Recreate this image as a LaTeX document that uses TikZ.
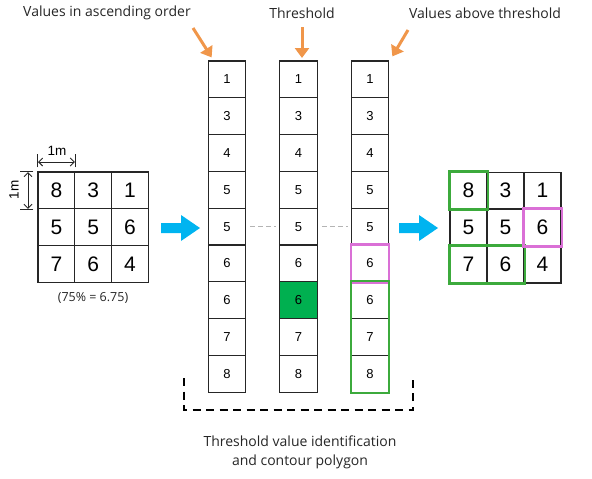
\documentclass[tikz,border=0pt]{standalone}
\usepackage{fontspec}
\setmainfont{Open Sans}
\newfontfamily\numfont{Liberation Sans}
\usetikzlibrary{arrows.meta}

\definecolor{cellgreen}{HTML}{00B050}
\definecolor{linegreen}{HTML}{3CAA3C}
\definecolor{linepink}{HTML}{DA70D6}
\definecolor{arrowblue}{HTML}{00B4F0}
\definecolor{arroworange}{HTML}{F0964A}
\definecolor{dashgray}{HTML}{B4B4B4}

\tikzset{
  colcell/.style={draw=black!85,line width=1.2pt,minimum width=37.5pt,minimum height=36.8pt,
    inner sep=0pt,font=\numfont\fontsize{13}{13}\selectfont},
  gridcell/.style={draw=black!85,line width=1.2pt,minimum width=36.8pt,minimum height=36.8pt,
    inner sep=0pt,font=\numfont\fontsize{21}{21}\selectfont},
  headlabel/.style={font=\fontsize{14}{14}\selectfont,text=black!85},
  orangearrow/.style={draw=arroworange,line width=3pt,-{Triangle[length=10pt,width=14pt]}},
  greenbox/.style={draw=linegreen,line width=2.2pt},
  pinkbox/.style={draw=linepink,line width=2.2pt},
  dimline/.style={draw=black!85,line width=0.9pt},
}

\begin{document}
\begin{tikzpicture}[x=1pt,y=-1pt]
  \useasboundingbox (0,0) rectangle (592,479);

  % raster 3x3
  \foreach \r/\a/\b/\c in {1/8/3/1,2/5/5/6,3/7/6/4} {
    \node[gridcell] (g\r1) at (56.4,{172+36.8*(\r-0.5)}) {\a};
    \node[gridcell] (g\r2) at (93.2,{172+36.8*(\r-0.5)}) {\b};
    \node[gridcell] (g\r3) at (130.0,{172+36.8*(\r-0.5)}) {\c};
  }
  \node[font=\fontsize{12.5}{12.5}\selectfont,text=black!85] (pct) at (93,298) {(75\% = 6.75)};

  % cell size
  \draw[dimline] (g11.north west) ++(0,-4) -- ++(0,-13);
  \draw[dimline] (g11.north east) ++(0,-4) -- ++(0,-13);
  \draw[dimline,{Straight Barb[length=4pt,width=8pt]}-{Straight Barb[length=4pt,width=8pt]}]
    (38,162) -- (74.8,162);
  \node[font=\numfont\fontsize{13.5}{13.5}\selectfont] (dimx) at (57,151) {1m};
  \draw[dimline] (g11.north west) ++(-4,0) -- ++(-13,0);
  \draw[dimline] (g11.south west) ++(-4,0) -- ++(-13,0);
  \draw[dimline,{Straight Barb[length=4pt,width=8pt]}-{Straight Barb[length=4pt,width=8pt]}]
    (28,172) -- (28,208.8);
  \node[font=\numfont\fontsize{13.5}{13.5}\selectfont,rotate=90] (dimy) at (14,190) {1m};

  % sorted columns
  \foreach \v [count=\i] in {1,3,4,5,5,6,6,7,8} {
    \node[colcell] (a\i) at (227,{61+36.8*(\i-0.5)}) {\v};
    \node[colcell] (b\i) at (298.5,{61+36.8*(\i-0.5)}) {\v};
    \node[colcell] (c\i) at (370,{61+36.8*(\i-0.5)}) {\v};
  }
  \node[colcell,fill=cellgreen] (b7) at (b7) {6};

  % threshold level
  \draw[dashgray,line width=1.2pt,dash pattern=on 5pt off 3pt,shorten <=4pt,shorten >=3pt] (a5.east) -- (b5.west);
  \draw[dashgray,line width=1.2pt,dash pattern=on 5pt off 3pt,shorten <=4pt,shorten >=3pt] (b5.east) -- (c5.west);

  % values above threshold
  \draw[pinkbox] (c6.north west) rectangle (c6.south east);
  \draw[greenbox] (c7.north west) rectangle (c9.south east);

  % result raster
  \foreach \r/\a/\b/\c in {1/8/3/1,2/5/5/6,3/7/6/4} {
    \node[gridcell,minimum width=37pt] (h\r1) at (468.5,{172+37*(\r-0.5)}) {\a};
    \node[gridcell,minimum width=37pt] (h\r2) at (505.5,{172+37*(\r-0.5)}) {\b};
    \node[gridcell,minimum width=37pt] (h\r3) at (542.5,{172+37*(\r-0.5)}) {\c};
  }
  \draw[greenbox] (h11.north west) rectangle (h11.south east);
  \draw[greenbox] (h31.north west) rectangle (h32.south east);
  \draw[pinkbox] (h23.north west) rectangle (h23.south east);

  % blue arrows
  \fill[arrowblue] (161,223) -- (181,223) -- (181,215) -- (200,228) -- (181,241) -- (181,233) -- (161,233) -- cycle;
  \fill[arrowblue] (399,223) -- (419,223) -- (419,215) -- (438,228) -- (419,241) -- (419,233) -- (399,233) -- cycle;

  % headings
  \node[headlabel] (hsort) at (107,13) {Values in ascending order};
  \node[headlabel] (hthr) at (302,13) {Threshold};
  \node[headlabel] (habove) at (485,13) {Values above threshold};
  \draw[orangearrow] (193,28) -- ([shift={(4,-3)}]a1.north west);
  \draw[orangearrow] (302,27) -- (302,58);
  \draw[orangearrow] (408,30) -- ([shift={(3,-4)}]c1.north east);

  % bracket
  \draw[line width=2.8pt,dash pattern=on 8pt off 5.5pt] (184,378) -- (184,410) -- (413,410) -- (413,378);
  \node[headlabel,align=center] (caption) at (300,452)
    {Threshold value identification\\[5pt]and contour polygon};
\end{tikzpicture}
\end{document}
